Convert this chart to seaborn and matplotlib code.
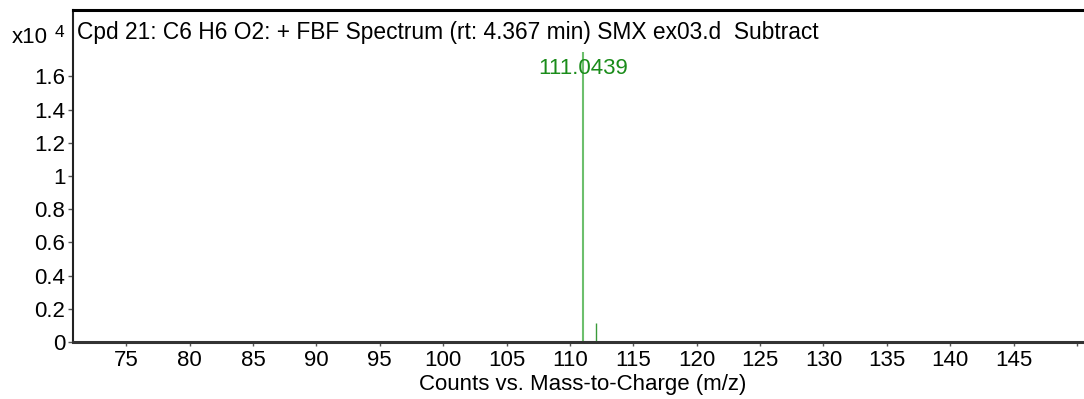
import matplotlib
matplotlib.use('Agg')
import seaborn as sns
import matplotlib.pyplot as plt

# peaks (counts in units of 1e4)
mz = [111.0439, 112.05]
counts = [1.744, 0.114]
peak_colors = ['#6dbf6d', '#3a9a3a']
peak_widths = [1.5, 1.0]
label_mz = 111.0439
label_text = '111.0439'

xticks = [75, 80, 85, 90, 95, 100, 105, 110, 115, 120, 125, 130, 135, 140, 145, 150]
xticklabels = ['75', '80', '85', '90', '95', '100', '105', '110', '115', '120',
               '125', '130', '135', '140', '145', '']
yticks = [0, 0.2, 0.4, 0.6, 0.8, 1.0, 1.2, 1.4, 1.6]
yticklabels = ['0', '0.2', '0.4', '0.6', '0.8', '1', '1.2', '1.4', '1.6']

title = 'Cpd 21: C6 H6 O2: + FBF Spectrum (rt: 4.367 min) SMX ex03.d  Subtract'
fs = 16

sns.set_style('white')
plt.rcParams['font.family'] = ['Liberation Sans', 'DejaVu Sans']
plt.rcParams['text.color'] = 'black'
plt.rcParams['axes.labelcolor'] = 'black'
plt.rcParams['xtick.labelcolor'] = 'black'
plt.rcParams['ytick.labelcolor'] = 'black'

fig = plt.figure(figsize=(10.84, 3.99), dpi=100)
ax = fig.add_axes([0.0673, 0.1429, 0.9327, 0.8321])

for x, y, c, w in zip(mz, counts, peak_colors, peak_widths):
    ax.vlines(x, 0, y, color=c, linewidth=w)

ax.text(label_mz, 1.65, label_text, color='#1a8c1a', fontsize=fs,
        ha='center', va='center')

ax.set_xlim(70.8, 150.55)
ax.set_ylim(0, 2.0)
ax.set_xticks(xticks)
ax.set_xticklabels(xticklabels)
ax.set_yticks(yticks)
ax.set_yticklabels(yticklabels)
ax.tick_params(axis='both', labelsize=fs, length=3.5, width=1, color='#555555',
               direction='out', pad=2, bottom=True, left=True)
ax.tick_params(axis='x', length=3, pad=3)

ax.spines['right'].set_visible(False)
ax.spines['top'].set_color('black')
ax.spines['top'].set_linewidth(2.2)
ax.spines['left'].set_color('#222222')
ax.spines['left'].set_linewidth(1.5)
ax.spines['bottom'].set_color('#333333')
ax.spines['bottom'].set_linewidth(2.2)

ax.text(0.004, 0.967, title, transform=ax.transAxes, fontsize=16.4,
        ha='left', va='top')
fig.text(0.011, 0.905, 'x10', fontsize=fs, ha='left', va='center')
fig.text(0.050, 0.918, '4', fontsize=12.5, ha='left', va='center')

ax.set_xlabel('Counts vs. Mass-to-Charge (m/z)', fontsize=fs)
ax.xaxis.set_label_coords(0.504, -0.096)
ax.xaxis.label.set_va('top')

fig.savefig('out.png', dpi=100)
